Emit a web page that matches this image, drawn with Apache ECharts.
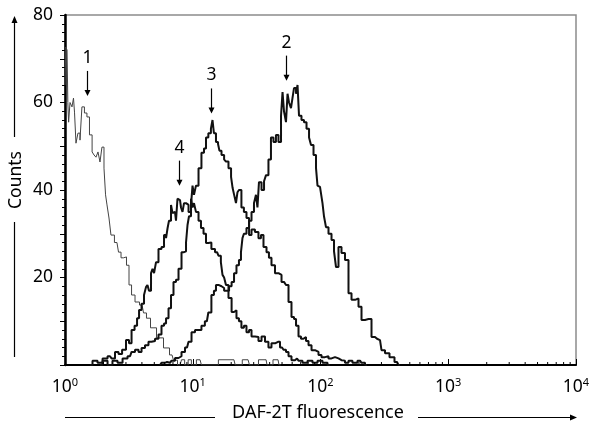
<!DOCTYPE html>
<html>
<head>
<meta charset="utf-8">
<script src="https://cdn.jsdelivr.net/npm/echarts@6/dist/echarts.min.js"></script>
<style>
  html, body { margin: 0; padding: 0; background: #fff; }
  #main { width: 589px; height: 425px; }
</style>
</head>
<body>
<div id="main"></div>
<script>
// fluorescence (log scale) vs counts
var curve1 = [
  [1.00, 64], [1.03, 72.7], [1.045, 72], [1.06, 60], [1.075, 55.5], [1.114, 60], [1.155, 59], [1.176, 61],
  [1.198, 57.8], [1.24, 50.7], [1.287, 53], [1.334, 51.4], [1.38, 59], [1.46, 57.6], [1.51, 56.7],
  [1.60, 52.6], [1.66, 48.7], [1.717, 48], [1.78, 47.5], [1.845, 48.7], [1.913, 46.4], [1.98, 49.8],
  [2.06, 45], [2.094, 38.9], [2.17, 36.6], [2.25, 33.6], [2.33, 29.7], [2.55, 28], [2.70, 25.8],
  [2.79, 24.5], [2.95, 24.7], [3.11, 22.8], [3.23, 18.3], [3.41, 16], [3.66, 14.4], [4.01, 13.7],
  [4.23, 11.9], [4.46, 10.7], [4.89, 8.5], [5.54, 6.2], [6.29, 3.9], [6.88, 2.3], [7.26, 1.1],
  [7.95, 0], [8.39, 1.2], [8.9, 0], [9.52, 1.2], [10.0, 0], [11.4, 1.2], [12.0, 0], [21.0, 1.2],
  [22.0, 0], [27.1, 1.2], [28.5, 0], [37.5, 1.2], [38.8, 0], [46.5, 1.2], [48.2, 0], [49, 0]
];
var curve2 = [
  [5.54, 0], [5.85, 0.5], [6.29, 0.7], [6.64, 0.5], [7.01, 1], [7.53, 1.6], [7.95, 2], [8.39, 3],
  [9.02, 4], [9.52, 5.3], [10.05, 7.5], [10.8, 8], [11.4, 8], [12.0, 9], [12.9, 10], [13.6, 12],
  [14.4, 16], [14.9, 17], [15.5, 18.3], [16.3, 18], [17.3, 17.6], [17.9, 17], [18.9, 17], [19.6, 18],
  [20.7, 19], [21.4, 21], [22.6, 22.8], [23.4, 24], [24.3, 25.8], [24.7, 29], [25.6, 30], [27.1, 31.3],
  [28.1, 33], [29.6, 35], [30.7, 37], [31.8, 38.9], [32.4, 36], [33.6, 41.8], [35.5, 40], [36.8, 42],
  [38.1, 43.4], [40.2, 47], [41.7, 52], [44.0, 51], [45.6, 52.6], [48.2, 51], [50.0, 57], [50.9, 62.4],
  [52.7, 58], [54.7, 55.5], [55.7, 62], [57.7, 60], [59.8, 58.7], [60.9, 61], [63.2, 63.3], [65.5, 62],
  [66.7, 64], [69.1, 57], [72.9, 56], [75.6, 55.5], [79.9, 54], [82.8, 52], [85.8, 50.3], [90.6, 48],
  [93.9, 45], [95.6, 41], [99.1, 40.7], [102.7, 40.5], [104.6, 37], [108.4, 34], [112.4, 31.5],
  [118.7, 30], [125.3, 28.6], [129.9, 26], [134.6, 22.4], [142.1, 27], [150, 25.6], [161.2, 24],
  [170.2, 16.4], [179.7, 14.9], [193.1, 15.2], [203.8, 13.3], [215.2, 10.3], [231.2, 10.5],
  [244.1, 10.5], [257.6, 6.4], [276.9, 6], [292.3, 5.7], [308.5, 3.4], [331.6, 2.7], [362.7, 1.8],
  [397.1, 0.7], [419.1, 0]
];
var curve3 = [
  [1.88, 0], [2.06, 1], [2.25, 0], [2.46, 1], [2.70, 0.5], [2.95, 1.5], [3.23, 2], [3.41, 3],
  [3.66, 3.5], [3.87, 3], [4.08, 3.9], [4.38, 4.5], [4.63, 5.3], [4.89, 5.5], [5.25, 6], [5.54, 7],
  [5.85, 9], [6.07, 9.5], [6.29, 10.7], [6.64, 13], [6.88, 16], [7.26, 19], [7.53, 19.5], [7.95, 22],
  [8.39, 25.8], [8.70, 26], [9.02, 28], [9.18, 32], [9.52, 34], [9.87, 36.6], [10.05, 41], [10.4, 38.9],
  [10.8, 41], [11.4, 45], [12.0, 48.5], [12.5, 49.5], [12.9, 52], [13.6, 53], [14.15, 54], [14.4, 56],
  [14.9, 53], [15.5, 51], [16.05, 50.5], [16.3, 49], [17.3, 48], [17.9, 47], [18.5, 46.5], [19.6, 45],
  [20.3, 43], [20.7, 40.5], [21.4, 39], [22.2, 37], [22.6, 39.5], [23.4, 40], [24.7, 36], [25.6, 35],
  [27.1, 33.6], [28.1, 29.7], [29.6, 31], [31.8, 30.4], [33.6, 29], [34.8, 29.7], [36.8, 27],
  [38.8, 25.8], [40.2, 24.5], [42.5, 22.8], [45.6, 21], [48.2, 20.6], [50.9, 19], [52.7, 18.7],
  [54.7, 18.3], [57.7, 14.4], [60.9, 11], [63.2, 10.5], [65.5, 9], [69.1, 6.5], [71.6, 6], [75.6, 6.4],
  [78.4, 5.5], [82.8, 4.5], [87.4, 3.4], [93.9, 3], [99.1, 2.3], [104.6, 1.8], [112.4, 2], [118.7, 1.5],
  [125.3, 1.8], [134.6, 1.5], [142.1, 1.1], [150, 1], [161.2, 0.5], [170.2, 1], [186, 0.5], [203.8, 1],
  [215.2, 0.5], [231.2, 0]
];
var curve4 = [
  [1.57, 0], [1.717, 1], [1.88, 0.5], [2.06, 1.5], [2.25, 2], [2.38, 1.5], [2.55, 3], [2.70, 2.5],
  [2.90, 3.5], [3.11, 5.7], [3.23, 5], [3.41, 8], [3.60, 9], [3.73, 10.7], [3.87, 12.6], [4.08, 14],
  [4.23, 16], [4.38, 17.8], [4.46, 18.3], [4.63, 17], [4.80, 21], [4.89, 22], [5.07, 21], [5.25, 23.5],
  [5.54, 26.5], [5.85, 27], [6.07, 29.7], [6.29, 29], [6.40, 31.2], [6.64, 33], [6.88, 36.6], [7.01, 34.7],
  [7.26, 35], [7.53, 33], [7.66, 38], [7.95, 37.7], [8.24, 36], [8.39, 35], [8.70, 37], [9.02, 36.6],
  [9.52, 35], [9.87, 38], [10.05, 36], [10.4, 37], [10.8, 35], [11.4, 33], [11.8, 31.3], [12.5, 30],
  [12.9, 27.9], [13.6, 28], [14.4, 26.5], [15.5, 25.8], [16.3, 25], [16.9, 23.5], [17.3, 20.6],
  [17.9, 20], [18.5, 18.3], [19.6, 15.3], [20.7, 12.1], [21.4, 12.5], [22.6, 10.7], [23.4, 10],
  [24.7, 8.5], [25.6, 9], [27.1, 7.5], [28.1, 8], [29.6, 6.5], [31.8, 6.4], [33.6, 5.5], [35.5, 6.5],
  [38.1, 5.3], [40.2, 4], [42.5, 5], [46.5, 5.3], [50.0, 4], [52.7, 3.5], [54.7, 3], [57.7, 2],
  [60.9, 1.1], [65.5, 1.5], [69.1, 1], [75.6, 0.5], [82.8, 1], [90.6, 0.5], [99.1, 1], [108.4, 0.5],
  [118.7, 0]
];

var xMinorTicks = [2, 3, 4, 5, 6, 7, 8, 9, 20, 30, 40, 50, 60, 70, 80, 90,
  200, 300, 400, 500, 600, 700, 800, 900, 2000, 3000, 4000, 5000, 6000, 7000, 8000, 9000];

var peakLabels = ['1', '2', '3', '4'];
var peakX = [1.49, 53.7, 13.9, 7.8];
var peakTipY = [61.5, 65, 57.5, 41];

var FONT = 'Noto Sans';

var chart = echarts.init(document.getElementById('main'));

function lineSeries(data, color, width) {
    return {
        type: 'line',
        data: data,
        step: 'middle',
        showSymbol: false,
        silent: true,
        lineStyle: { color: color, width: width },
        z: 3
    };
}

var option = {
    animation: false,
    backgroundColor: '#fff',
    grid: {
        left: 65, right: 13, top: 15, bottom: 60,
        show: true, borderColor: '#8c8c8c', borderWidth: 1.5,
        outerBoundsMode: 'none'
    },
    xAxis: {
        type: 'log',
        logBase: 10,
        min: 1,
        max: 10000,
        axisLine: { lineStyle: { color: '#000', width: 2 } },
        axisTick: { inside: true, length: 6, lineStyle: { color: '#000', width: 1 } },
        splitLine: { show: false },
        axisLabel: {
            margin: 12,
            formatter: function (v) {
                return '{n|10}{s|' + Math.round(Math.log10(v)) + '}';
            },
            rich: {
                n: { fontFamily: FONT, fontSize: 17.5, color: '#000', lineHeight: 20 },
                s: { fontFamily: FONT, fontSize: 11, color: '#000', verticalAlign: 'top', lineHeight: 12 }
            }
        }
    },
    yAxis: {
        type: 'value',
        min: 0,
        max: 80,
        interval: 10,
        axisLine: { show: true, lineStyle: { color: '#000', width: 2.5 } },
        axisTick: { show: true, length: 5, lineStyle: { color: '#000', width: 1 } },
        minorTick: { show: true, splitNumber: 5, length: 3, lineStyle: { color: '#000', width: 1 } },
        splitLine: { show: false },
        axisLabel: {
            margin: 12,
            fontFamily: FONT, fontSize: 17.5, color: '#000',
            formatter: function (v) { return (v > 0 && v % 20 === 0) ? String(v) : ''; }
        }
    },
    series: [
        lineSeries(curve1, '#444', 1),
        lineSeries(curve4, '#111', 2),
        lineSeries(curve3, '#111', 2),
        lineSeries(curve2, '#111', 2),
        {
            type: 'custom',
            silent: true,
            data: xMinorTicks.map(function (v) { return [v, 0]; }),
            renderItem: function (params, api) {
                var p = api.coord([api.value(0), 0]);
                return {
                    type: 'line',
                    shape: { x1: p[0], y1: p[1], x2: p[0], y2: p[1] - 3 },
                    style: { stroke: '#000', lineWidth: 1 }
                };
            },
            z: 4
        }
    ]
};
chart.setOption(option);

// annotations, axis names with arrows
var g = [];
peakLabels.forEach(function (lab, i) {
    var p = chart.convertToPixel({ gridIndex: 0 }, [peakX[i], peakTipY[i]]);
    var x = Math.round(p[0]) + 0.5, y = p[1];
    g.push({ type: 'line', shape: { x1: x, y1: y - 25, x2: x, y2: y - 5 }, style: { stroke: '#000', lineWidth: 1.2 } });
    g.push({ type: 'polygon', shape: { points: [[x - 3, y - 6], [x + 3, y - 6], [x, y]] }, style: { fill: '#000' } });
    g.push({ type: 'text', x: x, y: y - 38, style: { text: lab, fontFamily: FONT, fontSize: 17.5, fill: '#000', align: 'center', verticalAlign: 'middle' } });
});

// y name
g.push({ type: 'line', shape: { x1: 14.5, y1: 22, x2: 14.5, y2: 137 }, style: { stroke: '#000', lineWidth: 1.2 } });
g.push({ type: 'polygon', shape: { points: [[11.5, 23], [17.5, 23], [14.5, 16]] }, style: { fill: '#000' } });
g.push({ type: 'text', x: 16, y: 180, rotation: Math.PI / 2, style: { text: 'Counts', fontFamily: FONT, fontSize: 17.5, fill: '#000', align: 'center', verticalAlign: 'middle' } });
g.push({ type: 'line', shape: { x1: 14.5, y1: 222, x2: 14.5, y2: 357 }, style: { stroke: '#000', lineWidth: 1.2 } });

// x name
g.push({ type: 'line', shape: { x1: 65, y1: 417.5, x2: 215, y2: 417.5 }, style: { stroke: '#000', lineWidth: 1.2 } });
g.push({ type: 'text', x: 318, y: 413, style: { text: 'DAF-2T fluorescence', fontFamily: FONT, fontSize: 18, fill: '#000', align: 'center', verticalAlign: 'middle' } });
g.push({ type: 'line', shape: { x1: 418, y1: 417.5, x2: 571, y2: 417.5 }, style: { stroke: '#000', lineWidth: 1.2 } });
g.push({ type: 'polygon', shape: { points: [[570, 414.5], [570, 420.5], [577, 417.5]] }, style: { fill: '#000' } });

chart.setOption({ graphic: g });
</script>
</body>
</html>
